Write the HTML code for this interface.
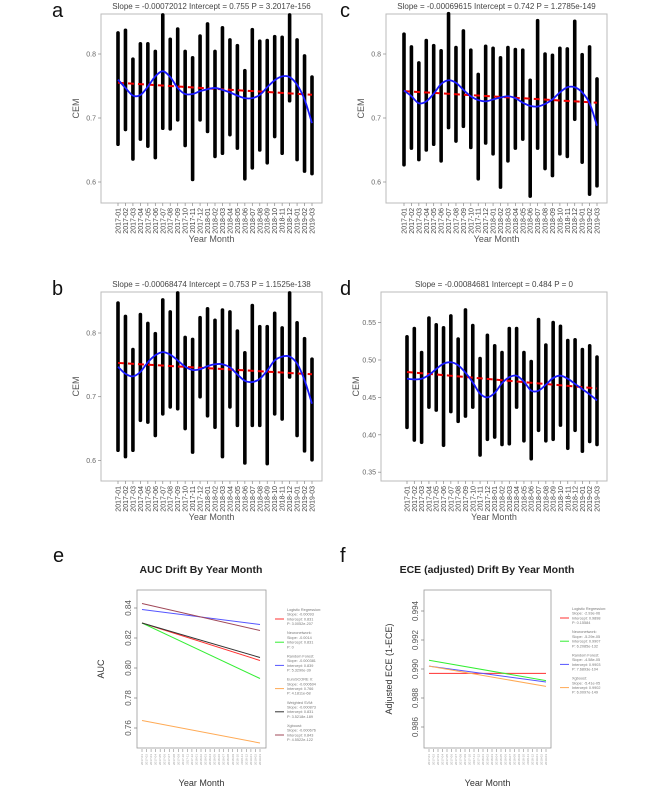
<!DOCTYPE html>
<html><head><meta charset="utf-8"><style>
body{margin:0;background:#fff}
svg{display:block;font-family:"Liberation Sans",sans-serif}
</style></head><body>
<svg id="s" width="666" height="799" viewBox="0 0 666 799"></svg>
<script>
const months=["2017-01","2017-02","2017-03","2017-04","2017-05","2017-06","2017-07","2017-08","2017-09","2017-10","2017-11","2017-12","2018-01","2018-02","2018-03","2018-04","2018-05","2018-06","2018-07","2018-08","2018-09","2018-10","2018-11","2018-12","2019-01","2019-02","2019-03"];
const aTop=[.833,.837,.792,.816,.816,.804,.861,.823,.839,.804,.794,.828,.847,.804,.841,.822,.813,.774,.838,.820,.821,.827,.826,.861,.822,.797,.764];
const aBot=[.659,.682,.636,.667,.656,.638,.684,.683,.697,.657,.604,.697,.679,.640,.645,.674,.653,.605,.622,.650,.630,.671,.645,.727,.635,.617,.613];
const aSmooth=[.760,.747,.735,.736,.749,.765,.773,.764,.747,.7375,.7375,.742,.745,.747,.744,.740,.735,.731,.731,.736,.748,.759,.765,.764,.752,.729,.692];
const bTop=[.847,.826,.774,.829,.815,.799,.852,.833,.863,.793,.790,.824,.838,.820,.836,.833,.803,.769,.843,.810,.810,.831,.808,.863,.816,.791,.759];
const bBot=[.616,.606,.616,.663,.660,.639,.673,.684,.681,.650,.613,.700,.670,.652,.606,.684,.655,.596,.655,.655,.595,.673,.665,.731,.639,.615,.601];
const bSmooth=[.747,.736,.732,.739,.754,.765,.770,.766,.757,.747,.742,.743,.748,.751,.751,.746,.735,.725,.723,.728,.741,.757,.763,.763,.752,.726,.689];
const cTop=[.831,.811,.786,.821,.813,.805,.863,.810,.836,.806,.768,.812,.809,.794,.810,.807,.806,.759,.852,.800,.798,.809,.808,.851,.799,.811,.761];
const cBot=[.627,.653,.635,.650,.659,.633,.685,.664,.687,.654,.605,.661,.644,.592,.633,.653,.667,.578,.653,.621,.610,.644,.640,.698,.631,.581,.594];
const cSmooth=[.743,.734,.723,.726,.738,.753,.759,.755,.744,.734,.728,.726,.729,.732,.734,.731,.724,.719,.718,.722,.729,.740,.748,.748,.740,.723,.688];
const dTop=[.531,.542,.510,.556,.547,.543,.559,.528,.567,.546,.502,.533,.519,.510,.542,.542,.510,.498,.554,.520,.550,.545,.526,.527,.514,.519,.504];
const dBot=[.410,.393,.390,.437,.433,.386,.431,.418,.425,.437,.373,.394,.397,.387,.388,.437,.392,.368,.406,.392,.394,.413,.382,.406,.378,.391,.387];
const dSmooth=[.475,.474,.475,.480,.488,.495,.497,.493,.483,.470,.455,.450,.456,.469,.477,.479,.471,.459,.459,.467,.476,.479,.475,.468,.461,.454,.446];
const slopes=[-0.00072012,-0.00068474,-0.00069615,-0.00084681];
const intercepts=[0.755,0.753,0.742,0.484];
const pvals=["3.2017e-156","1.1525e-138","1.2785e-149","0"];
const aucNames=["Logistic Regression","Neuronetwork","Random Forest","EuroSCORE II","Weighted SVM","Xgboost"];
const aucStart=[0.830,0.830,0.839,0.765,0.830,0.843];
const aucEnd=[0.805,0.793,0.829,0.750,0.807,0.825];
const aucLegend=[["Slope: -0.00093","Intercept: 0.831","P: 3.0052e-207"],["Slope: -0.0014","Intercept: 0.831","P: 0"],["Slope: -0.000381","Intercept: 0.839","P: 5.3290e-39"],["Slope: -0.000604","Intercept: 0.766","P: 4.1811e-68"],["Slope: -0.000873","Intercept: 0.831","P: 3.5218e-189"],["Slope: -0.000676","Intercept: 0.843","P: 4.5522e-122"]];
const eceNames=["Logistic Regression","Neuronetwork","Random Forest","Xgboost"];
const eceStart=[0.9897,0.9906,0.9902,0.9902];
const eceEnd=[0.9897,0.9892,0.9891,0.9888];
const eceLegend=[["Slope: -2.93e-06","Intercept: 0.9898","P: 0.15584"],["Slope: -5.29e-05","Intercept: 0.9907","P: 6.2085e-132"],["Slope: -4.58e-05","Intercept: 0.9903","P: 7.6893e-104"],["Slope: -5.41e-05","Intercept: 0.9902","P: 6.0097e-149"]];
const aTicks=[0.6,0.7,0.8], dTicks=[0.35,0.40,0.45,0.50,0.55];
const aucTicks=[0.76,0.78,0.80,0.82,0.84], eceTicks=[0.986,0.988,0.990,0.992,0.994];

const S=document.getElementById('s'),NS='http://www.w3.org/2000/svg';
function mk(tag,at,parent,txt){const e=document.createElementNS(NS,tag);for(const k in at)e.setAttribute(k,at[k]);if(txt!==undefined)e.textContent=txt;(parent||S).appendChild(e);return e;}
function grp(name){const g=mk('g',{});return g;}
function smoothPath(pts){let d='M'+pts[0][0]+','+pts[0][1];for(let i=0;i<pts.length-1;i++){const p0=pts[Math.max(0,i-1)],p1=pts[i],p2=pts[i+1],p3=pts[Math.min(pts.length-1,i+2)];d+=' C'+(p1[0]+(p2[0]-p0[0])/6)+','+(p1[1]+(p2[1]-p0[1])/6)+' '+(p2[0]-(p3[0]-p1[0])/6)+','+(p2[1]-(p3[1]-p1[1])/6)+' '+p2[0]+','+p2[1];}return d;}

function scatterPanel(o){
  const g=grp('panel-'+o.id);
  const L=o.box[0],R=o.box[1],T=o.box[2],B=o.box[3];
  const y=v=>o.y0px+(o.y0-v)*o.k;
  const x=i=>o.x0+i*(o.x1-o.x0)/(months.length-1);
  const lt=mk('text',{x:o.letter[0],y:o.letter[1],'font-size':20,fill:'#111'},g,o.id);
  
  const tt=mk('text',{x:(L+R)/2,y:T-5,'font-size':8,fill:'#444','text-anchor':'middle'},g,'Slope = '+slopes[o.n]+' Intercept = '+intercepts[o.n]+'  P = '+pvals[o.n]);
  
  const fr=mk('rect',{x:L,y:T,width:R-L,height:B-T,fill:'#fff',stroke:'#bbb','stroke-width':1},g);
  
  o.ticks.forEach(t=>{const yy=y(t);
    mk('line',{x1:L-3,x2:L,y1:yy,y2:yy,stroke:'#888','stroke-width':0.7},g);
    const tl=mk('text',{x:L-5,y:yy+2.5,'font-size':7,fill:'#666','text-anchor':'end'},g,t.toFixed(o.dec));
    });
  const yl=mk('text',{transform:`translate(${L-22},${(T+B)/2}) rotate(-90)`,'font-size':9,fill:'#555','text-anchor':'middle'},g,'CEM');
  
  months.forEach((m,i)=>{const xx=x(i);
    mk('line',{x1:xx,x2:xx,y1:B,y2:B+3,stroke:'#888','stroke-width':0.7},g);
    const xl=mk('text',{transform:`translate(${xx+2.5},${B+5}) rotate(-90)`,'font-size':7,fill:'#444','text-anchor':'end'},g,m);
    
    const bar=mk('line',{x1:xx,x2:xx,y1:y(o.top[i]),y2:y(o.bot[i]),stroke:'#000','stroke-width':3.6,'stroke-linecap':'round'},g);
    });
  const xt=mk('text',{x:(L+R)/2,y:B+39,'font-size':9,fill:'#555','text-anchor':'middle'},g,'Year Month');
  
  const sl=slopes[o.n],ic=intercepts[o.n],n=months.length-1;
  const rl=mk('line',{x1:x(0),y1:y(ic),x2:x(n),y2:y(ic+sl*n),stroke:'#e00','stroke-width':2,'stroke-dasharray':'6,4'},g);
  
  const sp=mk('path',{d:smoothPath(o.sm.map((v,i)=>[x(i),y(v)])),fill:'none',stroke:'#1a1aff','stroke-width':1.8},g);
  
}
scatterPanel({id:'a',n:0,box:[101,322,14,203],letter:[52,17],x0:118,x1:312,y0:0.8,y0px:54,k:640,ticks:aTicks,dec:1,top:aTop,bot:aBot,sm:aSmooth});
scatterPanel({id:'c',n:2,box:[386,607,14,203],letter:[340,17],x0:404,x1:597,y0:0.8,y0px:54,k:640,ticks:aTicks,dec:1,top:cTop,bot:cBot,sm:cSmooth});
scatterPanel({id:'b',n:1,box:[101,322,292,481],letter:[52,295],x0:118,x1:312,y0:0.8,y0px:333,k:637,ticks:aTicks,dec:1,top:bTop,bot:bBot,sm:bSmooth});
scatterPanel({id:'d',n:3,box:[381,607,292,481],letter:[340,295],x0:407,x1:597,y0:0.5,y0px:360,k:748,ticks:dTicks,dec:2,top:dTop,bot:dBot,sm:dSmooth});

function linePanel(o){
  const g=grp('panel-'+o.id);
  const L=o.box[0],R=o.box[1],T=o.box[2],B=o.box[3];
  const y=v=>o.y0px+(o.y0-v)*o.k;
  const x=i=>o.x0+i*(o.x1-o.x0)/(months.length-1);
  const lt=mk('text',{x:o.letter[0],y:o.letter[1],'font-size':20,fill:'#111'},g,o.id);
  
  const tt=mk('text',{x:o.tc,y:573,'font-size':10.5,'font-weight':'bold',fill:'#222','text-anchor':'middle'},g,o.title);
  
  const fr=mk('rect',{x:L,y:T,width:R-L,height:B-T,fill:'#fff',stroke:'#999','stroke-width':0.8},g);
  
  o.ticks.forEach(t=>{const yy=y(t);
    mk('line',{x1:L-3,x2:L,y1:yy,y2:yy,stroke:'#777','stroke-width':0.7},g);
    const tl=mk('text',{transform:`translate(${L-6},${yy}) rotate(-90)`,'font-size':8,fill:'#555','text-anchor':'middle'},g,t.toFixed(o.dec));
    });
  const yl=mk('text',{transform:`translate(${o.yl},${(T+B)/2}) rotate(-90)`,'font-size':9,fill:'#333','text-anchor':'middle'},g,o.ylab);
  
  months.forEach((m,i)=>{const xx=x(i);
    mk('line',{x1:xx,x2:xx,y1:B+1,y2:B+4,stroke:'#777','stroke-width':0.5},g);
    const xl=mk('text',{transform:`translate(${xx+1},${B+6}) rotate(-90)`,'font-size':3,fill:'#999','text-anchor':'end'},g,m);
    });
  const xt=mk('text',{x:(L+R)/2,y:786,'font-size':9,fill:'#333','text-anchor':'middle'},g,'Year Month');
  
  const n=months.length-1;
  o.names.forEach((nm,i)=>{
    const ln=mk('line',{x1:x(0),y1:y(o.st[i]),x2:x(n),y2:y(o.en[i]),stroke:o.cols[i],'stroke-width':1},g);
    
    const ey=o.leg0+i*23.2;
    const lg=mk('g',{},g);
    mk('line',{x1:o.lx-12,x2:o.lx-3,y1:ey+10,y2:ey+10,stroke:o.cols[i],'stroke-width':1},lg);
    mk('text',{x:o.lx,y:ey+2,'font-size':3.8,fill:'#777'},lg,nm+':');
    o.leg[i].forEach((t,j)=>mk('text',{x:o.lx,y:ey+6.7+j*4.7,'font-size':3.8,fill:'#777'},lg,t));
  });
}
linePanel({id:'e',box:[137,266,590,748],letter:[53,562],tc:201,title:'AUC Drift By Year Month',x0:142,x1:260,y0:0.84,y0px:608,k:1500,ticks:aucTicks,dec:2,yl:104,ylab:'AUC',names:aucNames,st:aucStart,en:aucEnd,cols:['#ff3030','#33ee33','#5555ff','#ffaa55','#333333','#a04858'],leg:aucLegend,leg0:609,lx:287});
linePanel({id:'f',box:[424,551,590,748],letter:[340,562],tc:487,title:'ECE (adjusted) Drift By Year Month',x0:429,x1:546,y0:0.994,y0px:611,k:14500,ticks:eceTicks,dec:3,yl:392,ylab:'Adjusted ECE (1-ECE)',names:eceNames,st:eceStart,en:eceEnd,cols:['#ff3030','#33ee33','#5555ff','#ffaa55'],leg:eceLegend,leg0:608,lx:572});
</script>
</body></html>
